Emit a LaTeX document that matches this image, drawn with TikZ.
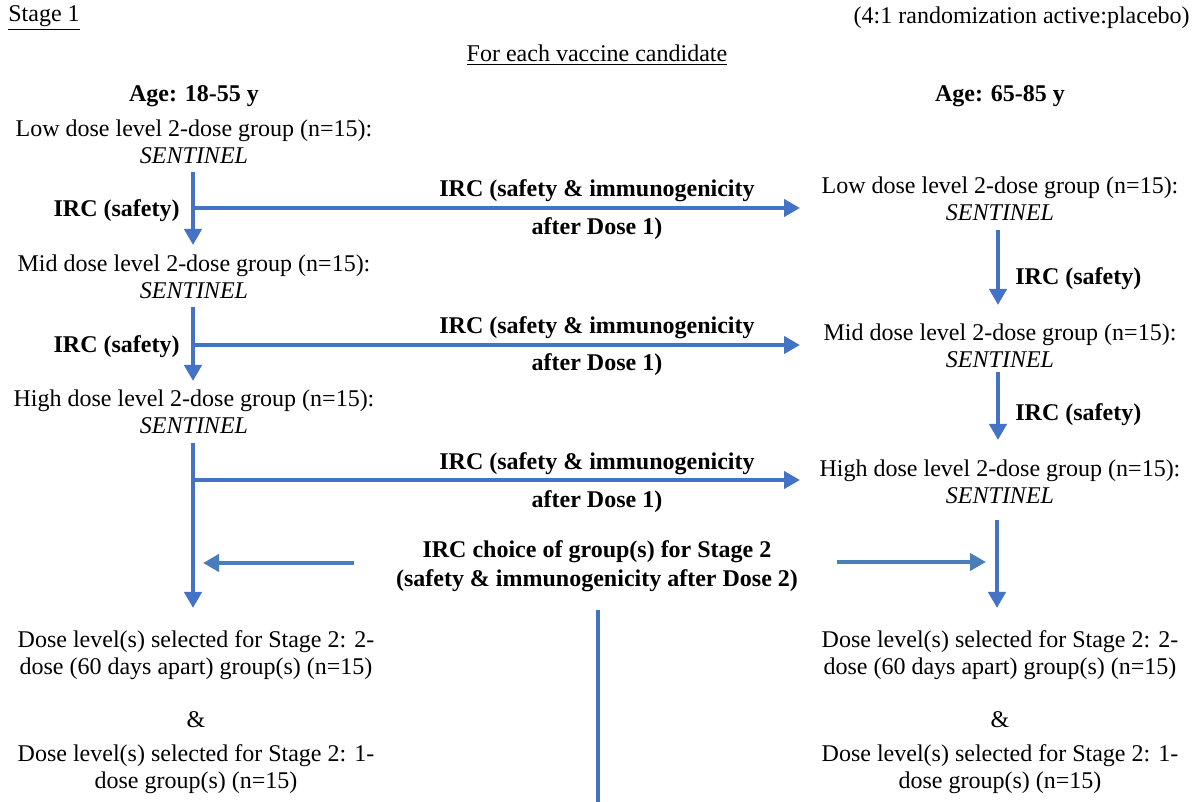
\documentclass[tikz,border=0pt]{standalone}
\usepackage{fontspec}
\IfFontExistsTF{LiberationSerif-Regular.ttf}
  {\setmainfont{LiberationSerif}[Extension=.ttf,UprightFont=*-Regular,BoldFont=*-Bold,ItalicFont=*-Italic,BoldItalicFont=*-BoldItalic]}
  {\setmainfont{Liberation Serif}}
\usepackage{tikz}
\usetikzlibrary{arrows.meta,positioning}
\definecolor{flowblue}{HTML}{4472C4}
\definecolor{choiceblue}{HTML}{4A7EBB}

\begin{document}
\begin{tikzpicture}[x=0.5pt,y=0.5pt,
  every node/.style={inner sep=0pt,font=\rmfamily\fontsize{12}{13.5}\selectfont,align=center},
  grp/.style={},
  irc/.style={font=\rmfamily\fontsize{12}{13.5}\selectfont\bfseries},
  flow/.style={draw=flowblue,line width=2pt,-{Triangle[length=8pt,width=8.5pt]}},
  branch/.style={draw=flowblue,line width=2pt},
  choice/.style={draw=choiceblue,line width=2pt,-{Triangle[length=8pt,width=8.5pt]}}]
\useasboundingbox (0,0) rectangle (1196,-802);
\node [anchor=west] (stage) at (8,-18) {\underline{Stage 1}};
\node [anchor=east] (rand) at (1190,-18) {(4:1 randomization active:placebo)};
\node (each) at (597,-55) {\underline{For each vaccine candidate}};
\node [irc] (lage) at (194,-96) {Age: 18-55 y};
\node [irc] (rage) at (1000,-96) {Age: 65-85 y};
\node [grp] (llow) at (194,-142) {Low dose level 2-dose group (n=15):\\\textit{SENTINEL}};
\node [grp] (lmid) at (194,-277) {Mid dose level 2-dose group (n=15):\\\textit{SENTINEL}};
\node [grp] (lhigh) at (194,-412) {High dose level 2-dose group (n=15):\\\textit{SENTINEL}};
\node [grp] (rlow) at (1000,-199) {Low dose level 2-dose group (n=15):\\\textit{SENTINEL}};
\node [grp] (rmid) at (1000,-346) {Mid dose level 2-dose group (n=15):\\\textit{SENTINEL}};
\node [grp] (rhigh) at (1000,-482) {High dose level 2-dose group (n=15):\\\textit{SENTINEL}};
\node [irc,anchor=east] (lsafe1) at (180,-211) {IRC (safety)};
\node [irc,anchor=east] (lsafe2) at (180,-347) {IRC (safety)};
\node [irc,anchor=west] (rsafe1) at (1015,-279) {IRC (safety)};
\node [irc,anchor=west] (rsafe2) at (1015,-415) {IRC (safety)};
\node [irc] (irc1a) at (597,-191) {IRC (safety \& immunogenicity};
\node [irc] (irc1b) at (597,-229) {after Dose 1)};
\node [irc] (irc2a) at (597,-328) {IRC (safety \& immunogenicity};
\node [irc] (irc2b) at (597,-365) {after Dose 1)};
\node [irc] (irc3a) at (597,-464) {IRC (safety \& immunogenicity};
\node [irc] (irc3b) at (597,-502) {after Dose 1)};
\node [irc] (pick) at (597,-566) {IRC choice of group(s) for Stage 2\\[1pt](safety \& immunogenicity after Dose 2)};
\node [grp] (lsel2d) at (196,-655) {Dose level(s) selected for Stage 2: 2-\\dose (60 days apart) group(s) (n=15)};
\node (land) at (196,-720) {\&};
\node [grp] (lsel1d) at (196,-769) {Dose level(s) selected for Stage 2: 1-\\dose group(s) (n=15)};
\node [grp] (rsel2d) at (1000,-655) {Dose level(s) selected for Stage 2: 2-\\dose (60 days apart) group(s) (n=15)};
\node (rand2) at (1000,-720) {\&};
\node [grp] (rsel1d) at (1000,-769) {Dose level(s) selected for Stage 2: 1-\\dose group(s) (n=15)};
\coordinate (la1) at (193,-172);
\coordinate (lb1) at (193,-245);
\coordinate (lj1) at (193,-208);
\coordinate (rt1) at (800,-208);
\coordinate (la2) at (193,-307);
\coordinate (lb2) at (193,-381);
\coordinate (lj2) at (193,-345);
\coordinate (rt2) at (800,-345);
\coordinate (la3) at (193,-443);
\coordinate (lb3) at (193,-608);
\coordinate (lj3) at (193,-480);
\coordinate (rt3) at (800,-480);
\coordinate (ra1) at (998,-230);
\coordinate (rb1) at (998,-305);
\coordinate (ra2) at (998,-372);
\coordinate (rb2) at (998,-440);
\coordinate (ra3) at (997,-520);
\coordinate (rb3) at (997,-608);
\coordinate (cl0) at (354,-563);
\coordinate (cl1) at (203,-563);
\coordinate (cr0) at (837,-562);
\coordinate (cr1) at (986,-562);
\coordinate (mid0) at (598,-610);
\coordinate (mid1) at (598,-802);
\draw [flow] (la1) -- (lb1);
\draw [flow] (lj1) -- (rt1);
\draw [flow] (la2) -- (lb2);
\draw [flow] (lj2) -- (rt2);
\draw [flow] (la3) -- (lb3);
\draw [flow] (lj3) -- (rt3);
\draw [flow] (ra1) -- (rb1);
\draw [flow] (ra2) -- (rb2);
\draw [flow] (ra3) -- (rb3);
\draw [choice] (cl0) -- (cl1);
\draw [choice] (cr0) -- (cr1);
\draw [branch] (mid0) -- (mid1);
\end{tikzpicture}
\end{document}
